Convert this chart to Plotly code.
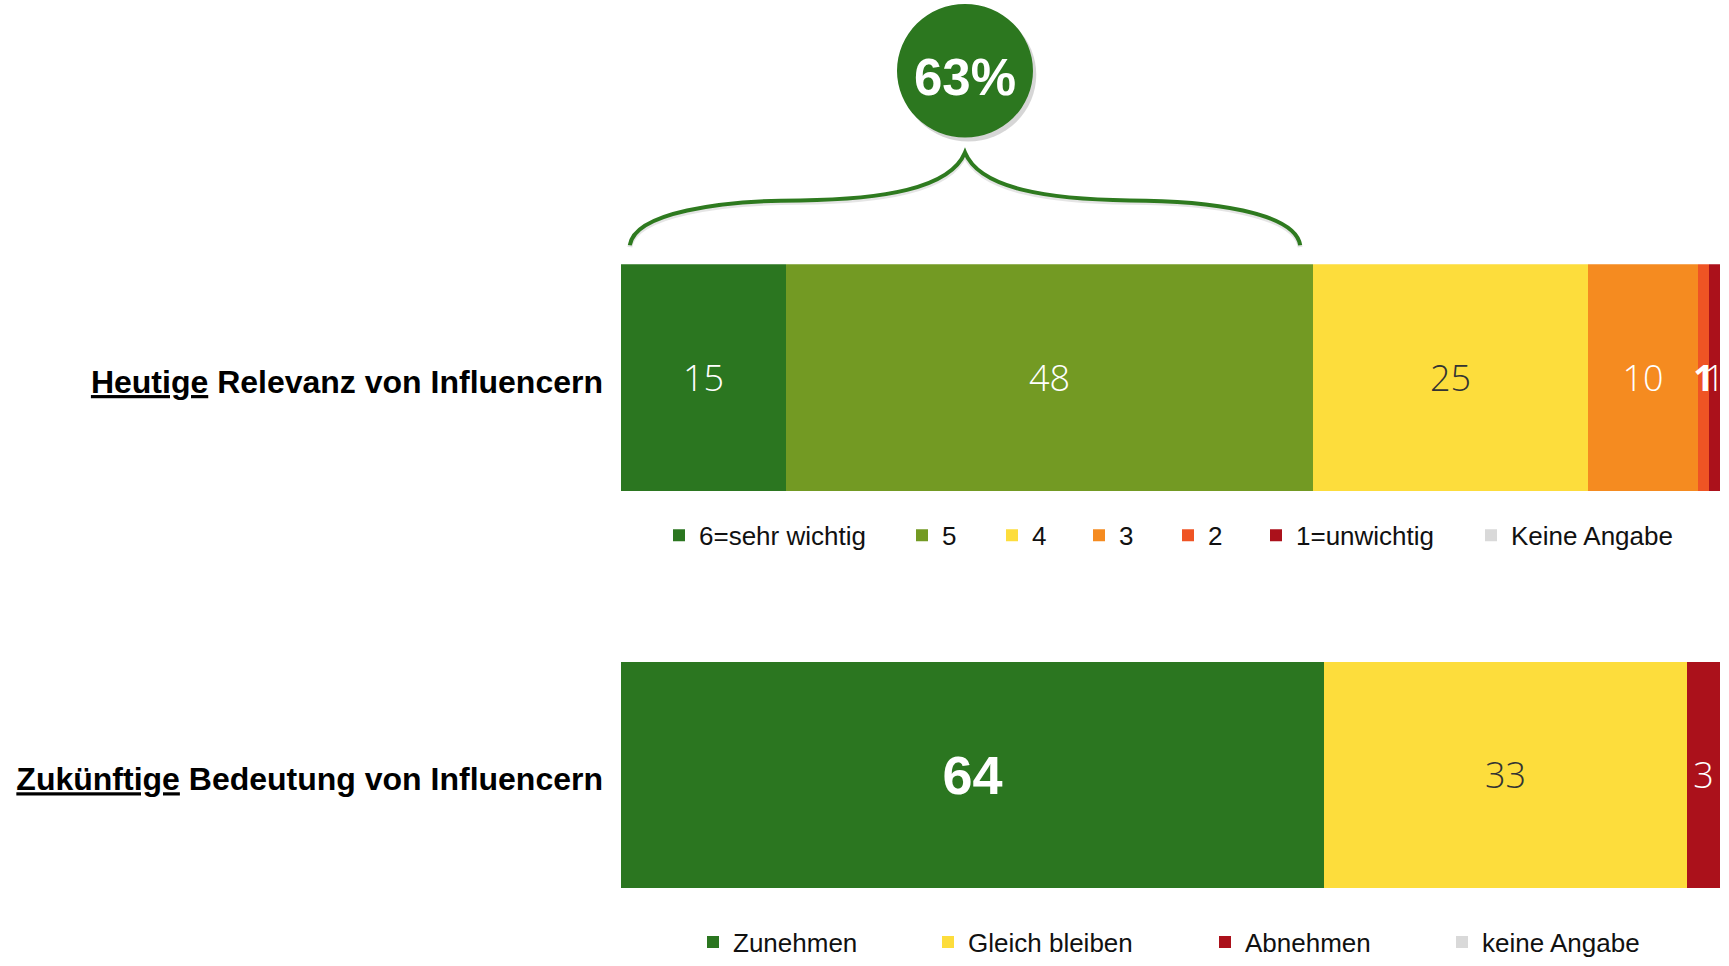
import plotly.graph_objects as go

# ---------------- data ----------------
row1_label = "<u>Heutige</u> Relevanz von Influencern"
row1_categories = ["6=sehr wichtig", "5", "4", "3", "2", "1=unwichtig", "Keine Angabe"]
row1_values = [15, 48, 25, 10, 1, 1, 0]

row2_label = "<u>Zukünftige</u> Bedeutung von Influencern"
row2_categories = ["Zunehmen", "Gleich bleiben", "Abnehmen", "keine Angabe"]
row2_values = [64, 33, 3, 0]

# ---------------- styles ----------------
GREEN = "#2B7620"
OLIVE = "#739A23"
YELLOW = "#FDDD3C"
ORANGE = "#F58B20"
REDOR = "#EF5424"
DARKRED = "#AB111B"
GREY = "#D9D9D9"

row1_colors = [GREEN, OLIVE, YELLOW, ORANGE, REDOR, DARKRED, GREY]
row2_colors = [GREEN, YELLOW, DARKRED, GREY]

THIN = "Open Sans, Roboto, sans-serif"
ARIAL = "Liberation Sans, Arial, sans-serif"
thin_white = dict(family=THIN, size=36, color="white", weight=300)
thin_dark = dict(family=THIN, size=36, color="#333333", weight=300)
bold_white_small = dict(family=THIN, size=36, color="white", weight=700)
big_bold = dict(family=ARIAL, size=54, color="white", weight="bold")

row1_fonts = [thin_white, thin_white, thin_dark, thin_white, bold_white_small, thin_white, thin_white]
row2_fonts = [big_bold, thin_dark, thin_white, thin_white]

W, H = 1729, 966
PL, PR = 621, 1720  # plot area pixel edges


def px_x(px):
    return (px - PL) / (PR - PL)


def px_y(py):
    return 1 - py / H


# legend square left-edge pixel positions
row1_leg_x = [675, 918, 1008, 1095, 1184, 1272, 1487]
row2_leg_x = [709, 944, 1221, 1458]
row1_leg_y = 537
row2_leg_y = 945

fig = go.Figure()
layout_legends = {}
leg_n = 0


def add_row(label, cats, vals, colors, fonts, yaxis, leg_xs, leg_y):
    global leg_n
    for cat, v, c, f, lx in zip(cats, vals, colors, fonts, leg_xs):
        leg_n += 1
        key = "legend" if leg_n == 1 else f"legend{leg_n}"
        fig.add_trace(go.Bar(
            x=[v], y=[label], orientation="h", name=cat,
            marker=dict(color=c, line=dict(width=0)),
            text=[str(v) if v else ""], textposition="inside",
            insidetextanchor="middle", constraintext="none",
            textfont=f, xaxis="x", yaxis=yaxis, legend=key,
            hoverinfo="name+x",
        ))
        layout_legends[key] = dict(
            x=px_x(lx - 16), xanchor="left", y=px_y(leg_y), yanchor="middle",
            orientation="h", bgcolor="rgba(0,0,0,0)", borderwidth=0,
            font=dict(family=ARIAL, size=26, color="#111111"),
        )


add_row(row1_label, row1_categories, row1_values, row1_colors, row1_fonts, "y", row1_leg_x, row1_leg_y)
add_row(row2_label, row2_categories, row2_values, row2_colors, row2_fonts, "y2", row2_leg_x, row2_leg_y)

# ---------------- brace + circle over top two categories ----------------
top2 = row1_values[0] + row1_values[1]
bx0 = 0 + 0.8
bx1 = top2 - 1.2
cx = (bx0 + bx1) / 2
hw = (bx1 - bx0) / 2


def bx(frac):
    return cx + frac * hw


def brace_path(dy=0):
    y_end, y_c1, y_flat, y_c3, y_c4, y_peak = [px_y(v + dy) for v in (246, 213, 201, 200, 190, 153)]
    return (
        f"M {bx(-1)},{y_end} C {bx(-0.985)},{y_c1} {bx(-0.729)},{y_flat} {bx(-0.491)},{y_flat} "
        f"C {bx(-0.253)},{y_c3} {bx(-0.045)},{y_c4} {bx(0)},{y_peak} "
        f"C {bx(0.045)},{y_c4} {bx(0.253)},{y_c3} {bx(0.491)},{y_flat} "
        f"C {bx(0.729)},{y_flat} {bx(0.985)},{y_c1} {bx(1)},{y_end}"
    )


r_data = 68 / (PR - PL) * 100
shapes = [
    dict(type="path", path=brace_path(2), xref="x", yref="paper",
         line=dict(color="rgba(0,0,0,0.10)", width=5), layer="above"),
    dict(type="path", path=brace_path(0), xref="x", yref="paper",
         line=dict(color="#2E7A1F", width=4), layer="above"),
    dict(type="circle", xref="x", yref="paper",
         x0=cx - r_data + 0.3, x1=cx + r_data + 0.3,
         y0=px_y(71 + 67 + 4), y1=px_y(71 - 67 + 4),
         fillcolor="rgba(0,0,0,0.16)", line=dict(width=0), layer="above"),
    dict(type="circle", xref="x", yref="paper",
         x0=cx - r_data, x1=cx + r_data,
         y0=px_y(71 + 67), y1=px_y(71 - 67),
         fillcolor="#2C771F", line=dict(width=0), layer="above"),
]

annotations = [
    dict(text=f"<b>{top2}%</b>", x=cx, xref="x", y=px_y(78), yref="paper",
         showarrow=False, xanchor="center", yanchor="middle",
         font=dict(family=ARIAL, size=51, color="white")),
]

ytick_font = dict(family=ARIAL, size=32, color="black", weight="bold")

fig.update_layout(
    width=W, height=H,
    margin=dict(l=PL, r=W - PR, t=0, b=0, pad=0),
    paper_bgcolor="white", plot_bgcolor="white",
    barmode="stack", bargap=0,
    xaxis=dict(range=[0, 100], visible=False, fixedrange=True),
    yaxis=dict(domain=[px_y(493), px_y(265)], range=[-0.5, 0.5], anchor="x",
               showgrid=False, zeroline=False, showline=False, ticks="",
               ticklabelstandoff=17, ticklabelshift=4, tickfont=ytick_font),
    yaxis2=dict(domain=[px_y(891), px_y(664)], range=[-0.5, 0.5], anchor="x",
                showgrid=False, zeroline=False, showline=False, ticks="",
                ticklabelstandoff=17, ticklabelshift=4, tickfont=ytick_font),
    shapes=shapes,
    annotations=annotations,
    showlegend=True,
    **layout_legends,
)

fig.write_html(
    "out.html",
    config={"displayModeBar": False},
    post_script="document.body.style.margin='0';document.body.style.overflow='hidden';",
)
